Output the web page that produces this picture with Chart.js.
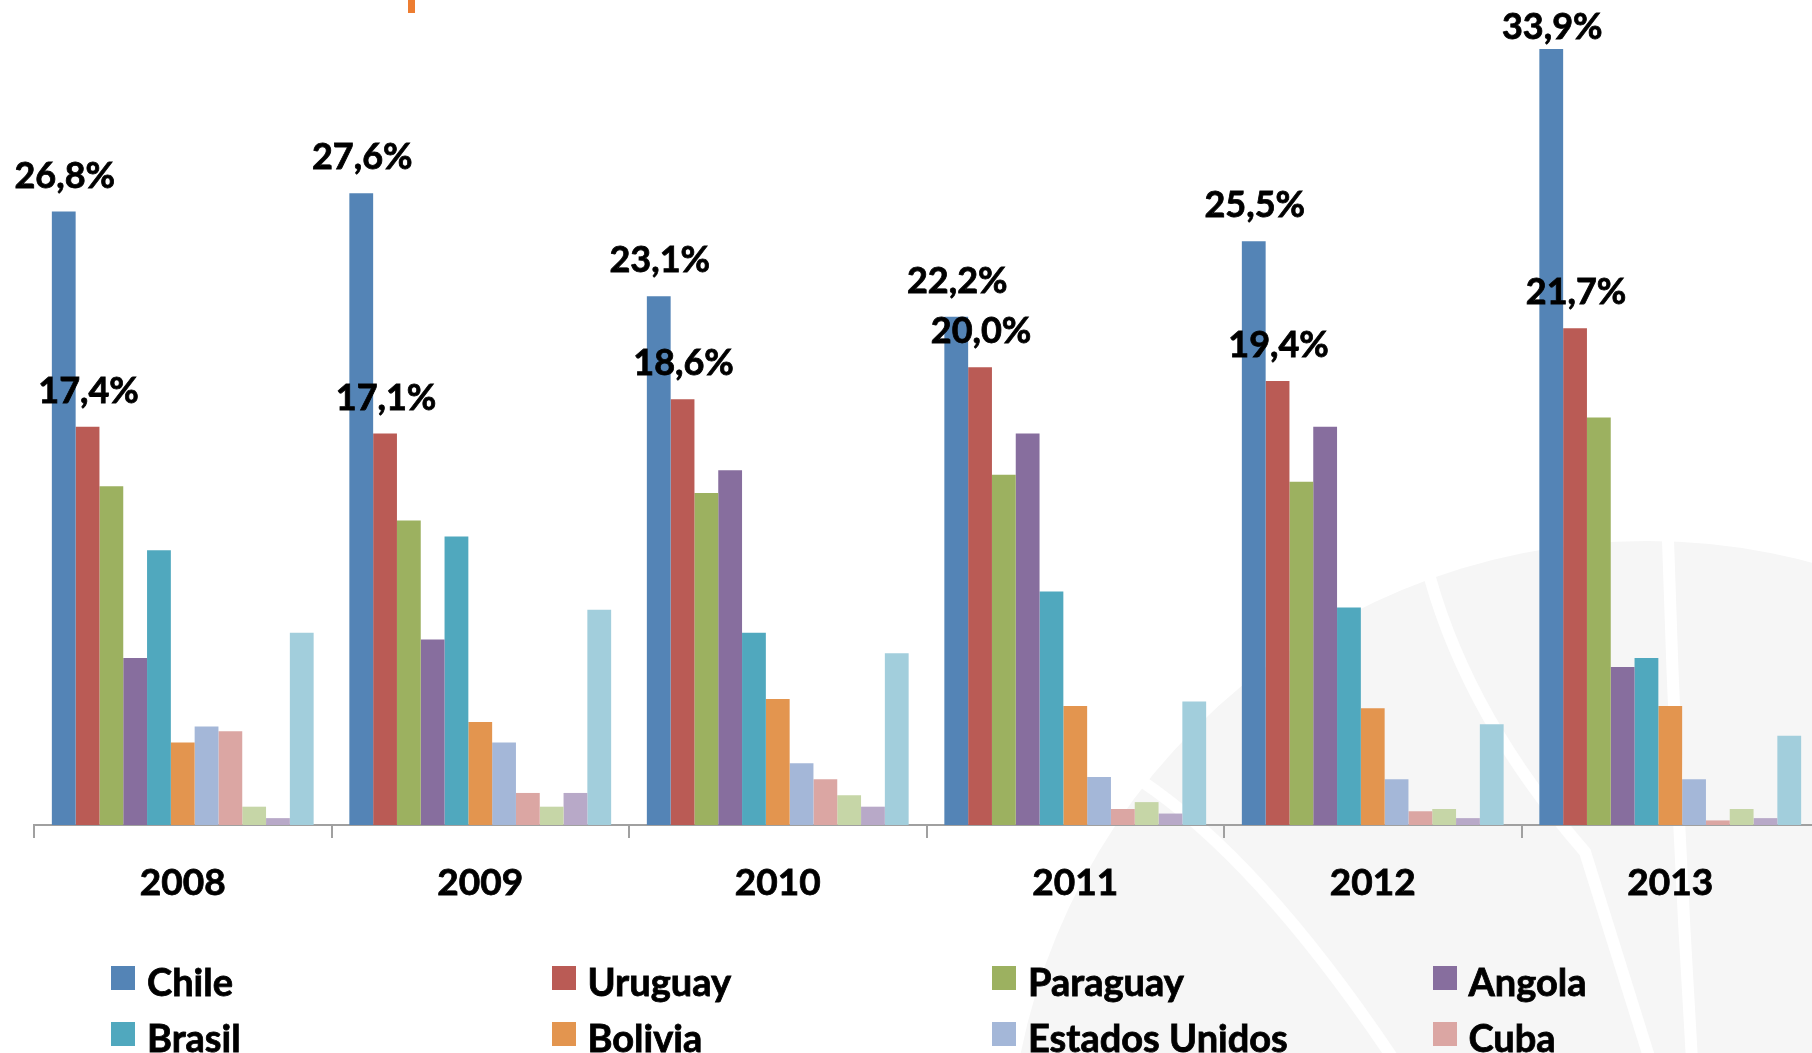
<!DOCTYPE html>
<html lang="es">
<head>
  <meta charset="UTF-8">
  <title>Participación por país de destino 2008-2013</title>
  <script src="https://cdn.jsdelivr.net/npm/chart.js"></script>
  <style>
    body { margin: 0; width: 1812px; height: 1053px; overflow: hidden; background: #fff; font-family: Lato, sans-serif; }
    #contenedor { position: relative; width: 1822px; height: 1053px; }
    #grafico { position: absolute; left: 0; top: 0; }
    .marca { position: absolute; left: 408px; top: 0; width: 7px; height: 13px; background: #ED7D31; }
    .item { position: absolute; height: 40px; white-space: nowrap; }
    .item .caja { position: absolute; left: 0; top: 4px; width: 24px; height: 24px; }
    .item .texto { position: absolute; left: 36px; top: 0; font: bold 38px/38px Lato, sans-serif; color: #000; -webkit-text-stroke: 0.8px #000; }
  </style>
</head>
<body>
  <div id="contenedor">
    <canvas id="grafico" width="1822" height="1053"></canvas>
    <div class="marca"></div>
    <div id="leyenda"></div>
  </div>

  <script>
    // Datos (% por año)
    const anios = ['2008', '2009', '2010', '2011', '2012', '2013'];

    const chile      = [26.8, 27.6, 23.1, 22.2, 25.5, 33.9];
    const uruguay    = [17.4, 17.1, 18.6, 20.0, 19.4, 21.7];
    const paraguay   = [14.8, 13.3, 14.5, 15.3, 15.0, 17.8];
    const angola     = [7.3, 8.1, 15.5, 17.1, 17.4, 6.9];
    const brasil     = [12.0, 12.6, 8.4, 10.2, 9.5, 7.3];
    const bolivia    = [3.6, 4.5, 5.5, 5.2, 5.1, 5.2];
    const eeuu       = [4.3, 3.6, 2.7, 2.1, 2.0, 2.0];
    const cuba       = [4.1, 1.4, 2.0, 0.7, 0.6, 0.2];
    const venezuela  = [0.8, 0.8, 1.3, 1.0, 0.7, 0.7];
    const peru       = [0.3, 1.4, 0.8, 0.5, 0.3, 0.3];
    const otros      = [8.4, 9.4, 7.5, 5.4, 4.4, 3.9];

    const fmt = v => v.toFixed(1).replace('.', ',') + '%';

    // marca de agua del fondo
    const fondo = {
      id: 'fondo',
      beforeDraw(chart) {
        const ctx = chart.ctx;
        ctx.save();
        ctx.fillStyle = '#f6f6f6';
        ctx.beginPath();
        ctx.arc(1647, 1180, 639, 0, Math.PI * 2);
        ctx.fill();
        ctx.strokeStyle = '#ffffff';
        ctx.lineCap = 'round';
        ctx.lineWidth = 12;
        ctx.beginPath();
        ctx.moveTo(1430, 578);
        ctx.quadraticCurveTo(1470, 720, 1585, 852);
        ctx.lineTo(1650, 1060);
        ctx.stroke();
        ctx.beginPath();
        ctx.moveTo(1668, 540);
        ctx.quadraticCurveTo(1676, 800, 1692, 1060);
        ctx.stroke();
        ctx.beginPath();
        ctx.moveTo(1140, 780);
        ctx.quadraticCurveTo(1260, 860, 1394, 1060);
        ctx.stroke();
        ctx.restore();
      }
    };

    // etiquetas de valor sobre Chile y Uruguay
    const etiquetas = {
      id: 'etiquetas',
      afterDatasetsDraw(chart) {
        const ctx = chart.ctx;
        ctx.save();
        ctx.font = 'bold 36px Lato';
        ctx.fillStyle = '#000';
        ctx.strokeStyle = '#000';
        ctx.lineWidth = 0.8;
        ctx.textAlign = 'center';
        ctx.textBaseline = 'alphabetic';
        chart.data.datasets.forEach((ds, i) => {
          if (!ds.etiqueta) return;
          chart.getDatasetMeta(i).data.forEach((bar, j) => {
            const y = Math.max(bar.y - 24, chart.chartArea.top + 38);
            ctx.fillText(fmt(ds.data[j]), bar.x + 1, y);
            ctx.strokeText(fmt(ds.data[j]), bar.x + 1, y);
          });
        });
        ctx.restore();
      }
    };

    const chart = new Chart(document.getElementById('grafico'), {
      type: 'bar',
      data: {
        labels: anios,
        datasets: [
          { label: 'Chile', data: chile, backgroundColor: '#5484B6', etiqueta: true },
          { label: 'Uruguay', data: uruguay, backgroundColor: '#BA5B55', etiqueta: true },
          { label: 'Paraguay', data: paraguay, backgroundColor: '#9CB160' },
          { label: 'Angola', data: angola, backgroundColor: '#876E9E' },
          { label: 'Brasil', data: brasil, backgroundColor: '#50A8BE' },
          { label: 'Bolivia', data: bolivia, backgroundColor: '#E3954F' },
          { label: 'Estados Unidos', data: eeuu, backgroundColor: '#A4B7D8' },
          { label: 'Cuba', data: cuba, backgroundColor: '#DBA6A3' },
          { label: 'Venezuela', data: venezuela, backgroundColor: '#C6D6A7' },
          { label: 'Perú', data: peru, backgroundColor: '#B8A9C8' },
          { label: 'Otros', data: otros, backgroundColor: '#A2CEDC' }
        ]
      },
      options: {
        responsive: false,
        animation: false,
        layout: { padding: { left: 34, right: 3, top: 1, bottom: 0 } },
        datasets: { bar: { categoryPercentage: 0.88, barPercentage: 1 } },
        plugins: {
          legend: { display: false },
          tooltip: { enabled: false }
        },
        scales: {
          x: {
            grid: { offset: true, drawOnChartArea: false, color: '#a0a0a0', lineWidth: 2, tickLength: 13 },
            border: { color: '#a0a0a0', width: 2 },
            ticks: {
              color: '#000', padding: 23, textStrokeColor: '#000', textStrokeWidth: 0.8,
              font: { family: 'Lato', weight: 'bold', size: 37 }
            },
            afterFit(scale) { scale.height = 228; }
          },
          y: { display: false, min: 0, max: 36 }
        }
      },
      plugins: [fondo, etiquetas]
    });

    // leyenda en 4 columnas
    const leyenda = document.getElementById('leyenda');
    chart.data.datasets.forEach((ds, i) => {
      const item = document.createElement('div');
      item.className = 'item';
      item.style.left = (111 + (i % 4) * 440.5) + 'px';
      item.style.top = (962 + Math.floor(i / 4) * 56) + 'px';
      const caja = document.createElement('span');
      caja.className = 'caja';
      caja.style.background = ds.backgroundColor;
      const texto = document.createElement('span');
      texto.className = 'texto';
      texto.textContent = ds.label;
      item.appendChild(caja);
      item.appendChild(texto);
      leyenda.appendChild(item);
    });
  </script>
</body>
</html>
